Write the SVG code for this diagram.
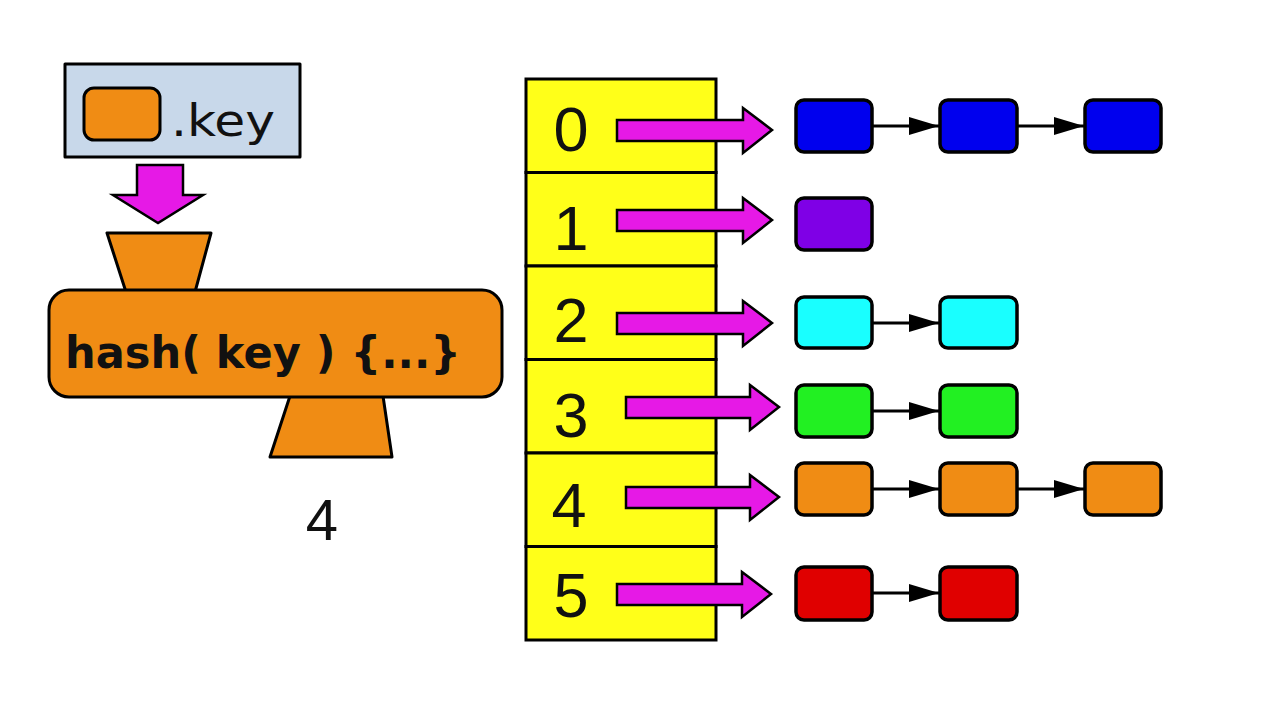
<svg xmlns="http://www.w3.org/2000/svg" width="1280" height="720" viewBox="0 0 1280 720">
<defs>
<style>
.ol{stroke:#000;stroke-width:3;stroke-linejoin:round}
.mag{fill:#e619e6;stroke:#000;stroke-width:2.5;stroke-linejoin:miter}
.cell{fill:#ffff19;stroke:#000;stroke-width:3}
.node{stroke:#000;stroke-width:3.5}
.dig{font-family:"Liberation Sans",Arial,sans-serif;font-size:63px;fill:#111;text-anchor:middle}
.link{stroke:#000;stroke-width:3;fill:none;marker-end:url(#ah)}
</style>
<marker id="ah" viewBox="0 0 30 18" refX="30" refY="9" markerWidth="30" markerHeight="18" markerUnits="userSpaceOnUse" orient="auto">
<path d="M0,0 L30,9 L0,18 z" fill="#000"/>
</marker>
</defs>
<rect width="1280" height="720" fill="#fff"/>

<g id="key-box">
<rect x="65" y="64" width="235" height="93" fill="#c8d8ea" class="ol"/>
<rect x="84" y="88" width="76" height="52" rx="10" fill="#f08c14" class="ol"/>
<text x="171" y="136" font-family="DejaVu Sans,Verdana,sans-serif" font-size="45" fill="#111" textLength="104" lengthAdjust="spacingAndGlyphs">.key</text>
</g>

<g id="down-arrow">
<path class="mag" d="M137,165 H183 V195 H203 L158,223 L113,195 H137 Z"/>
</g>

<g id="hash-function">
<path d="M107,233 H211 L195,292 H126 Z" fill="#f08c14" class="ol"/>
<path d="M290,396 H383 L392,457 H270 Z" fill="#f08c14" class="ol"/>
<rect x="49" y="290" width="453" height="107" rx="20" fill="#f08c14" class="ol"/>
<text x="65" y="368" font-family="DejaVu Sans,Verdana,sans-serif" font-weight="bold" font-size="44" fill="#111" textLength="396" lengthAdjust="spacingAndGlyphs">hash( key ) {...}</text>
</g>

<g id="result">
<text x="322" y="540" font-family="Liberation Sans,Arial,sans-serif" font-size="58" fill="#111" text-anchor="middle">4</text>
</g>

<g id="table">
<rect class="cell" x="526" y="79" width="190" height="93.5"/>
<rect class="cell" x="526" y="172.5" width="190" height="93.5"/>
<rect class="cell" x="526" y="266" width="190" height="93.5"/>
<rect class="cell" x="526" y="359.5" width="190" height="93.5"/>
<rect class="cell" x="526" y="453" width="190" height="93.5"/>
<rect class="cell" x="526" y="546.5" width="190" height="93.5"/>
<text class="dig" x="571" y="151">0</text>
<text class="dig" x="571" y="250">1</text>
<text class="dig" x="571" y="342">2</text>
<text class="dig" x="571" y="437">3</text>
<text class="dig" x="569" y="527">4</text>
<text class="dig" x="571" y="617">5</text>
</g>

<g id="bucket-arrows">
<path class="mag" d="M617,120 H743 V108 L772,130 L743,153 V141 H617 Z"/>
<path class="mag" d="M617,210 H743 V198 L772,220 L743,243 V231 H617 Z"/>
<path class="mag" d="M617,313 H743 V301 L772,323 L743,346 V334 H617 Z"/>
<path class="mag" d="M626,397 H750 V385 L779,407 L750,430 V418 H626 Z"/>
<path class="mag" d="M626,487 H750 V475 L779,497 L750,520 V508 H626 Z"/>
<path class="mag" d="M617,584 H742 V572 L771,594 L742,617 V605 H617 Z"/>
</g>

<g id="node-0-0"><rect class="node" x="796" y="100" width="76" height="52" rx="8" fill="#0000ee"/></g>
<g id="node-0-1"><rect class="node" x="940" y="100" width="77" height="52" rx="8" fill="#0000ee"/></g>
<g id="node-0-2"><rect class="node" x="1085" y="100" width="76" height="52" rx="8" fill="#0000ee"/></g>
<g id="node-1-0"><rect class="node" x="796" y="198" width="76" height="52" rx="8" fill="#7f00e6"/></g>
<g id="node-2-0"><rect class="node" x="796" y="297" width="76" height="51" rx="8" fill="#19ffff"/></g>
<g id="node-2-1"><rect class="node" x="940" y="297" width="77" height="51" rx="8" fill="#19ffff"/></g>
<g id="node-3-0"><rect class="node" x="796" y="385" width="76" height="52" rx="8" fill="#22f022"/></g>
<g id="node-3-1"><rect class="node" x="940" y="385" width="77" height="52" rx="8" fill="#22f022"/></g>
<g id="node-4-0"><rect class="node" x="796" y="463" width="76" height="52" rx="8" fill="#f08c14"/></g>
<g id="node-4-1"><rect class="node" x="940" y="463" width="77" height="52" rx="8" fill="#f08c14"/></g>
<g id="node-4-2"><rect class="node" x="1085" y="463" width="76" height="52" rx="8" fill="#f08c14"/></g>
<g id="node-5-0"><rect class="node" x="796" y="567" width="76" height="53" rx="8" fill="#e00000"/></g>
<g id="node-5-1"><rect class="node" x="940" y="567" width="77" height="53" rx="8" fill="#e00000"/></g>

<g id="connectors">
<line class="link" x1="872" y1="126" x2="939" y2="126"/>
<line class="link" x1="1017" y1="126" x2="1084" y2="126"/>
<line class="link" x1="872" y1="323" x2="939" y2="323"/>
<line class="link" x1="872" y1="411" x2="939" y2="411"/>
<line class="link" x1="872" y1="489" x2="939" y2="489"/>
<line class="link" x1="1017" y1="489" x2="1084" y2="489"/>
<line class="link" x1="872" y1="593" x2="939" y2="593"/>
</g>
</svg>
